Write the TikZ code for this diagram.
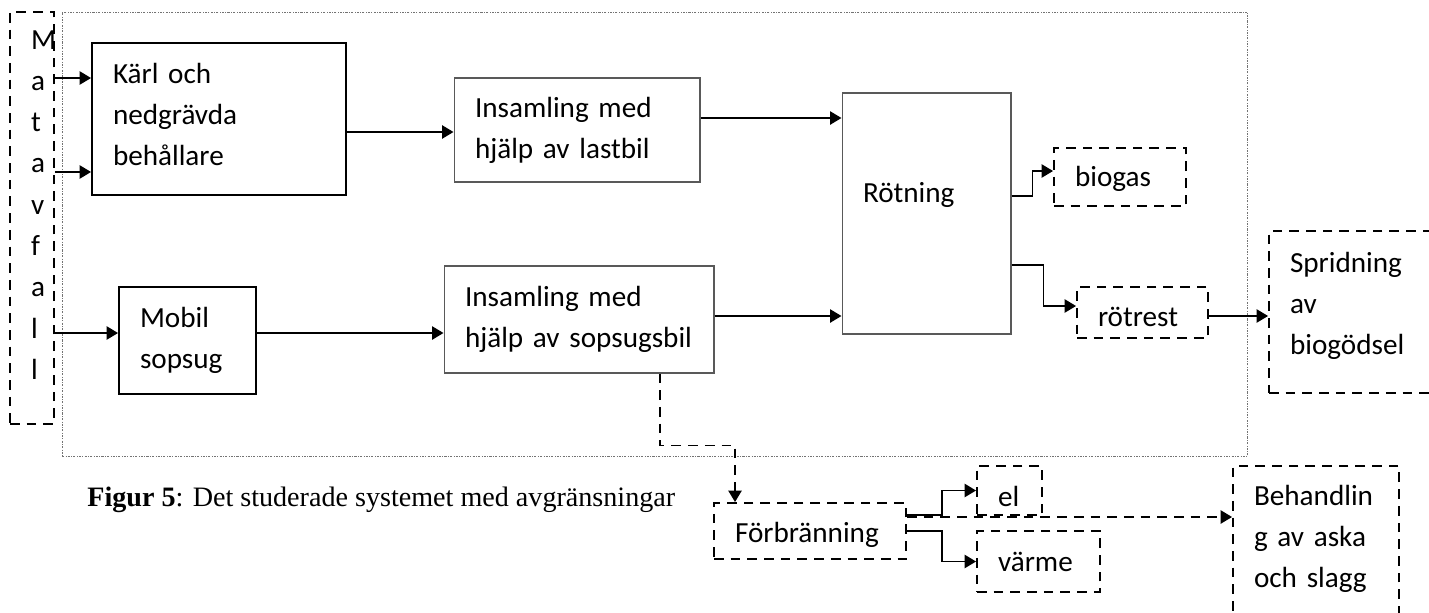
\documentclass[tikz,border=0pt]{standalone}
\usepackage{fontspec}
\setmainfont{Carlito}
\newfontfamily\capfont{Liberation Serif}
\usetikzlibrary{arrows.meta}
\newcommand{\boxfont}{\fontsize{16.6}{23.5}\selectfont}
\begin{document}
\begin{tikzpicture}[
  x=0.02cm, y=-0.02cm,
  >={Triangle[length=6.5pt,width=7.5pt]},
  every node/.style={font=\boxfont},
  flowbox/.style={
    draw,
    line width=1.1pt,
    inner xsep=0.42cm,
    inner ysep=0.1cm,
    align=left
  },
  pathbox/.style={
    flowbox,
    draw=black!65,
    line width=0.6pt
  },
  outbox/.style={
    flowbox,
    dash pattern=on 5.5pt off 4pt
  },
  flow/.style={->,line width=1.1pt},
  dashflow/.style={flow,dash pattern=on 5.5pt off 4pt},
  sysline/.style={
    draw=black!55,
    line width=0.5pt,
    dash pattern=on 1.2pt off 0.8pt on 0.4pt off 0.8pt
  }
]
  \useasboundingbox (0,0) rectangle (1429,612);

  \node[sysline,minimum width=23.72cm,minimum height=8.88cm,inner sep=0pt] (sys) at (655,234) {};

  \node[outbox,text width=0.04cm,minimum height=8.24cm,text height=0.4cm,text depth=7.16cm] (mat) at (32,218)
    {M\\a\\t\\a\\v\\f\\a\\l\\l};
  \node[flowbox,text width=4.24cm,minimum height=3.04cm,text height=0.4cm,text depth=1.84cm] (karl) at (219,119)
    {Kärl och\\nedgrävda\\behållare};
  \node[flowbox,text width=1.9cm,minimum height=2.14cm,text height=0.4cm,text depth=0.94cm] (mobil) at (187.5,340.5)
    {Mobil\\sopsug};
  \node[pathbox,text width=4.08cm,minimum height=2.08cm,text height=0.4cm,text depth=0.92cm] (lastbil) at (577,130)
    {Insamling med\\hjälp av lastbil};
  \node[pathbox,text width=4.56cm,minimum height=2.14cm,text height=0.4cm,text depth=0.94cm] (sugbil) at (579,319.5)
    {Insamling med\\hjälp av sopsugsbil};
  \node[pathbox,text width=2.54cm,minimum height=4.82cm,text height=0.4cm,text depth=0.86cm] (rotning) at (926.5,213.5)
    {Rötning};
  \node[outbox,text width=1.8cm,minimum height=1.16cm,text height=0.4cm,text depth=0.04cm] (biogas) at (1120,177)
    {biogas};
  \node[outbox,text width=1.78cm,minimum height=1.02cm,text height=0.54cm,text depth=0cm] (rotrest) at (1142.5,312.5)
    {rötrest};
  \node[outbox,text width=2.68cm,minimum height=3.24cm,text height=0.4cm,text depth=2cm] (sprid) at (1357,312)
    {Spridning\\av\\biogödsel};
  \node[outbox,text width=3cm,minimum height=1.12cm,text height=0.44cm,text depth=0cm] (forbr) at (810,531)
    {Förbränning};
  \node[outbox,text width=0.46cm,minimum height=0.98cm,text height=0.62cm,text depth=0cm] (el) at (1009.5,490.5)
    {el};
  \node[outbox,text width=1.62cm,minimum height=1.22cm,text height=0.38cm,text depth=0cm] (varme) at (1038.5,561.5)
    {värme};
  \node[outbox,text width=2.48cm,minimum height=3.68cm,text height=0.4cm,text depth=2.52cm] (behandl) at (1316,558)
    {Behandlin\\g av aska\\och slagg};

  \node[anchor=base west,inner sep=0pt,font=\capfont\fontsize{16}{19}\selectfont] (caption) at (87,506)
    {\textbf{Figur 5}: Det studerade systemet med avgränsningar};

  \draw[flow] ([yshift=0.82cm]karl.west -| mat.east) -- ([yshift=0.82cm]karl.west);
  \draw[flow] ([yshift=-1.06cm]karl.west -| mat.east) -- ([yshift=-1.06cm]karl.west);
  \draw[flow] ([yshift=0.15cm]mobil.west -| mat.east) -- ([yshift=0.15cm]mobil.west);
  \draw[flow] ([yshift=-0.26cm]karl.east) -- ([yshift=-0.26cm]karl.east -| lastbil.west);
  \draw[flow] ([yshift=0.15cm]mobil.east) -- ([yshift=0.15cm]mobil.east -| sugbil.west);
  \draw[flow] ([yshift=0.24cm]lastbil.east) -- ([yshift=0.24cm]lastbil.east -| rotning.west);
  \draw[flow] ([yshift=0.07cm]sugbil.east) -- ([yshift=0.07cm]sugbil.east -| rotning.west);
  \draw[flow] ([yshift=0.35cm]rotning.east) -- ++(0.42cm,0) |- ([yshift=0.12cm]biogas.west);
  \draw[flow] ([yshift=-1.03cm]rotning.east) -- ++(0.64cm,0) |- ([yshift=0.13cm]rotrest.west);
  \draw[flow] ([yshift=-0.07cm]rotrest.east) -- ([yshift=-0.07cm]rotrest.east -| sprid.west);
  \draw[dashflow] ([xshift=1.62cm]sugbil.south) -- ++(0,-1.44cm) -| ([xshift=-1.5cm]forbr.north);
  \draw[flow] ([yshift=0.32cm]forbr.east) -- ++(0.7cm,0) |- (el.west);
  \draw[flow] (forbr.east) -- ++(0.7cm,0) |- (varme.west);
  \draw[dashflow] ([yshift=0.28cm]forbr.east) -- ([yshift=0.28cm]forbr.east -| behandl.west);
\end{tikzpicture}
\end{document}
